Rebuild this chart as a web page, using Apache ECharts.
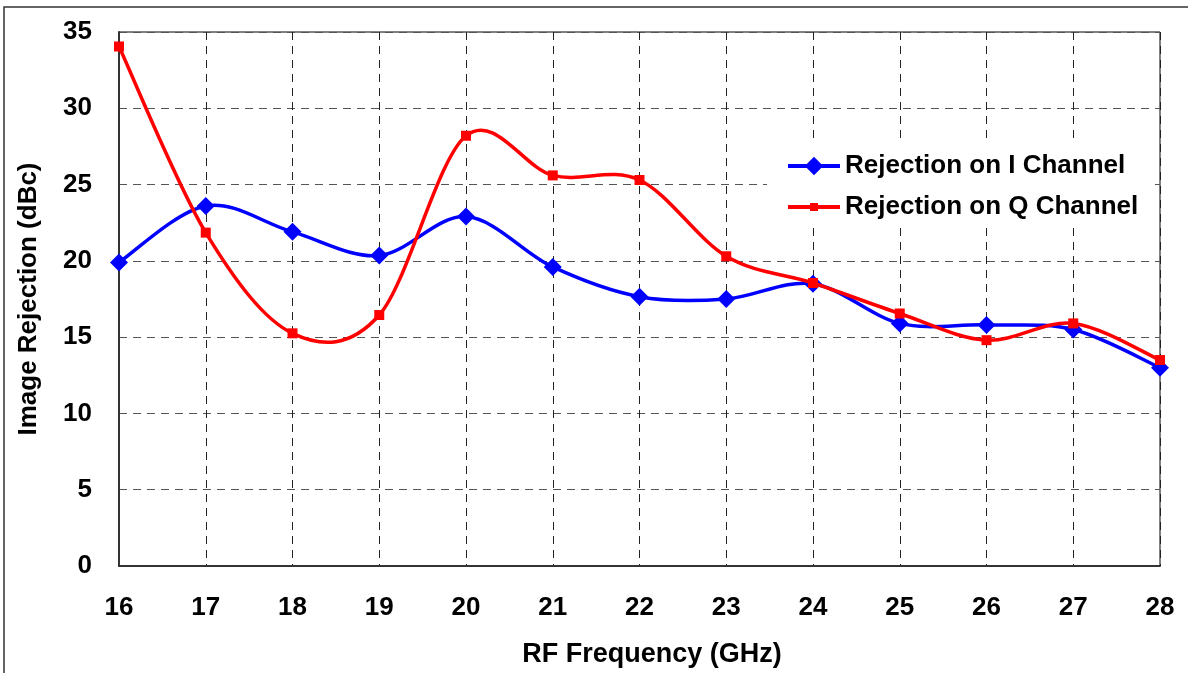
<!DOCTYPE html>
<html>
<head>
<meta charset="utf-8">
<title>Image Rejection vs RF Frequency</title>
<script src="https://cdn.jsdelivr.net/npm/echarts@6/dist/echarts.min.js"></script>
<style>
  html, body { margin: 0; padding: 0; background: #fff; }
  #chart { width: 1188px; height: 673px; }
</style>
</head>
<body>
<div id="chart"></div>
<script>
// RF frequency sweep (GHz)
const freqs = [16, 17, 18, 19, 20, 21, 22, 23, 24, 25, 26, 27, 28];
// Image rejection measured on each channel (dBc)
const iChannel = [19.9, 23.6, 21.9, 20.35, 22.9, 19.6, 17.65, 17.5, 18.5, 15.9, 15.8, 15.5, 13.0];
const qChannel = [34.05, 21.85, 15.25, 16.45, 28.2, 25.6, 25.3, 20.3, 18.55, 16.55, 14.8, 15.9, 13.5];
const seriesNames = ['Rejection on I Channel', 'Rejection on Q Channel'];

const BLUE = '#0000ff';
const RED = '#ff0000';
const FONT = '"Liberation Sans", Arial, sans-serif';
const pairs = (ys) => freqs.map((f, i) => [f, ys[i]]);

// Smooth curve through the measured points (Catmull-Rom spline as cubic Beziers),
// positioned with the chart's own coordinate system.
function smoothCurve(ys, color, width) {
  return function (params, api) {
    const pts = freqs.map((f, i) => api.coord([f, ys[i]]));
    const n = pts.length;
    let d = 'M' + pts[0][0] + ' ' + pts[0][1];
    for (let i = 0; i < n - 1; i++) {
      const p0 = pts[Math.max(i - 1, 0)];
      const p1 = pts[i];
      const p2 = pts[i + 1];
      const p3 = pts[Math.min(i + 2, n - 1)];
      const c1x = p1[0] + (p2[0] - p0[0]) / 6, c1y = p1[1] + (p2[1] - p0[1]) / 6;
      const c2x = p2[0] - (p3[0] - p1[0]) / 6, c2y = p2[1] - (p3[1] - p1[1]) / 6;
      d += ' C' + c1x + ' ' + c1y + ' ' + c2x + ' ' + c2y + ' ' + p2[0] + ' ' + p2[1];
    }
    return {
      type: 'path',
      shape: { pathData: d },
      style: { fill: 'none', stroke: color, lineWidth: width, lineJoin: 'round', lineCap: 'round' }
    };
  };
}

const legendText = { fontFamily: FONT, fontWeight: 'bold', fontSize: 26, color: '#000' };

const chart = echarts.init(document.getElementById('chart'), null, { renderer: 'canvas' });

chart.setOption({
  backgroundColor: '#fff',
  animation: false,
  grid: {
    left: 119, right: 28, top: 32, bottom: 106,
    show: true, borderColor: '#000', borderWidth: 1
  },
  xAxis: {
    type: 'value', min: 16, max: 28, interval: 1,
    name: 'RF Frequency (GHz)', nameLocation: 'middle', nameGap: 75,
    nameTextStyle: { fontFamily: FONT, fontWeight: 'bold', fontSize: 27, color: '#000', padding: [0, 0, 0, 25] },
    axisLine: { show: true, lineStyle: { color: '#333', width: 2 } },
    axisTick: { show: false },
    axisLabel: { fontFamily: FONT, fontWeight: 'bold', fontSize: 26, color: '#000', margin: 29 },
    splitLine: { show: true, lineStyle: { color: '#222', type: [8, 6], width: 1 } }
  },
  yAxis: {
    type: 'value', min: 0, max: 35, interval: 5,
    name: 'Image Rejection (dBc)', nameLocation: 'middle', nameGap: 77, nameRotate: 90,
    nameTextStyle: { fontFamily: FONT, fontWeight: 'bold', fontSize: 26, color: '#000' },
    axisLine: { show: true, lineStyle: { color: '#333', width: 2 } },
    axisTick: { show: false },
    axisLabel: { fontFamily: FONT, fontWeight: 'bold', fontSize: 26, color: '#000', margin: 27 },
    splitLine: { show: true, lineStyle: { color: '#555', type: [8, 6], width: 1 } }
  },
  legend: [
    {
      orient: 'vertical', left: 786, top: 153, padding: 0,
      itemWidth: 52, itemHeight: 23,
      textStyle: legendText,
      data: [{ name: seriesNames[0], lineStyle: { color: BLUE, width: 4, opacity: 1 } }]
    },
    {
      orient: 'vertical', left: 786, top: 194, padding: 0,
      itemWidth: 52, itemHeight: 10,
      textStyle: legendText,
      data: [{ name: seriesNames[1], lineStyle: { color: RED, width: 4, opacity: 1 } }]
    }
  ],
  graphic: [
    {
      // white box behind the legend, hiding the grid lines there
      type: 'rect', z: 1, silent: true,
      shape: { x: 767, y: 142, width: 387, height: 86 },
      style: { fill: '#fff', stroke: 'none' }
    },
    {
      // outer chart frame
      type: 'rect', z: 1, silent: true,
      shape: { x: 4, y: 7, width: 1300, height: 800 },
      style: { fill: 'none', stroke: '#333', lineWidth: 1.5 }
    }
  ],
  series: [
    {
      name: 'I curve', type: 'custom', silent: true, z: 2,
      data: [[16, 0]],
      renderItem: smoothCurve(iChannel, BLUE, 3.5)
    },
    {
      name: seriesNames[0], type: 'line', z: 3,
      data: pairs(iChannel),
      symbol: 'diamond', symbolSize: 18, showSymbol: true,
      itemStyle: { color: BLUE },
      lineStyle: { color: BLUE, width: 0, opacity: 0 }
    },
    {
      name: 'Q curve', type: 'custom', silent: true, z: 4,
      data: [[16, 0]],
      renderItem: smoothCurve(qChannel, RED, 3.5)
    },
    {
      name: seriesNames[1], type: 'line', z: 5,
      data: pairs(qChannel),
      symbol: 'rect', symbolSize: 10, showSymbol: true,
      itemStyle: { color: RED },
      lineStyle: { color: RED, width: 0, opacity: 0 }
    }
  ]
});
</script>
</body>
</html>
